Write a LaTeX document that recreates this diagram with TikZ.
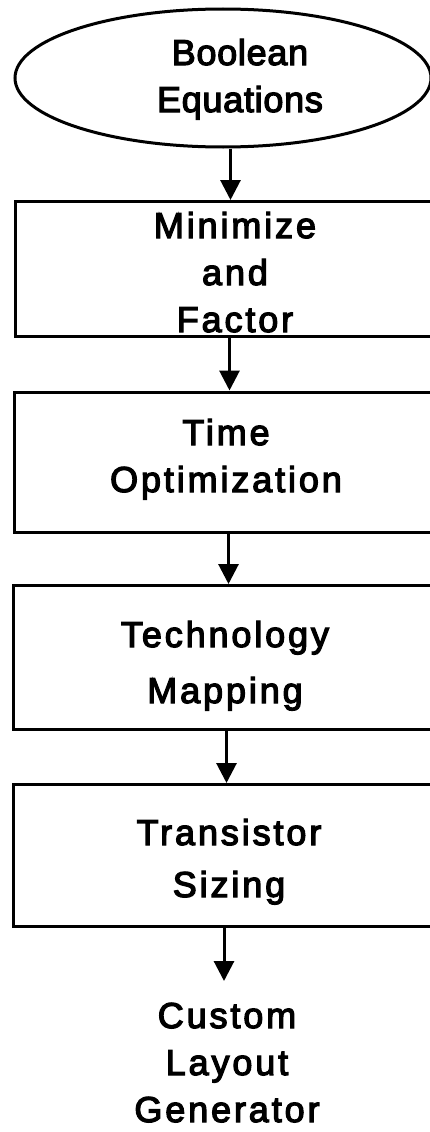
\documentclass[tikz,border=0pt]{standalone}
\usepackage{fontspec}
\setmainfont{Liberation Sans}[LetterSpace=8,FakeBold=3.5]
\newfontfamily\tightfont{Liberation Sans}[LetterSpace=2,FakeBold=3.5]
\usetikzlibrary{shapes.geometric,arrows.meta}

\begin{document}
\begin{tikzpicture}[x=1pt,y=-1pt,
  stage/.style={draw, line width=3pt, rectangle, inner sep=0pt,
    minimum width=430pt, anchor=north west},
  caption/.style={align=center, inner sep=0pt, anchor=base,
    font=\fontsize{36}{47}\selectfont},
  flow/.style={line width=3pt, -{Triangle[width=20pt,length=20pt]}},
]
\useasboundingbox (0,0) rectangle (430,1132);
\fill[white] (0,0) rectangle (430,1132);
\begin{scope}
\clip (0,0) rectangle (430,1132);

% source: the equations
\node[draw, ellipse, line width=3pt, inner sep=0pt,
      minimum width=416pt, minimum height=138pt] (src) at (223,78) {};
% captions are anchored on the baseline of their last line
\node[caption, font=\tightfont\fontsize{36}{47}\selectfont] (srct) at (240,112) {Boolean\\Equations};

% synthesis stages
\node[stage, minimum height=135pt]   (b1) at (14,200) {};
\node[stage, minimum height=140.5pt] (b2) at (13,390.5) {};
\node[stage, minimum height=143.5pt] (b3) at (12,584) {};
\node[stage, minimum height=141.5pt, minimum width=426pt] (b4) at (12,783) {};

\node[caption] (t1) at (235,332) {Minimize\\and\\Factor};
\node[caption] (t2) at (226,492) {Time\\Optimization};
\node[caption, font=\fontsize{36}{56}\selectfont] (t3) at (225,703) {Technology\\Mapping};
\node[caption, font=\fontsize{36}{52}\selectfont] (t4) at (229,897) {Transistor\\Sizing};

% final output
\node[caption] (t5) at (227,1122) {Custom\\Layout\\Generator};
\coordinate (sink) at (224,981);

% connectors
\draw[flow] (b1.north |- src.south) -- (b1.north);
\draw[flow] (b1.south -| b2.north) -- (b2.north);
\draw[flow] (b2.south -| b3.north) -- (b3.north);
\draw[flow] (b3.south -| b4.north) -- (b4.north);
\draw[flow] (b4.south -| sink) -- (sink);
\end{scope}
\end{tikzpicture}
\end{document}
